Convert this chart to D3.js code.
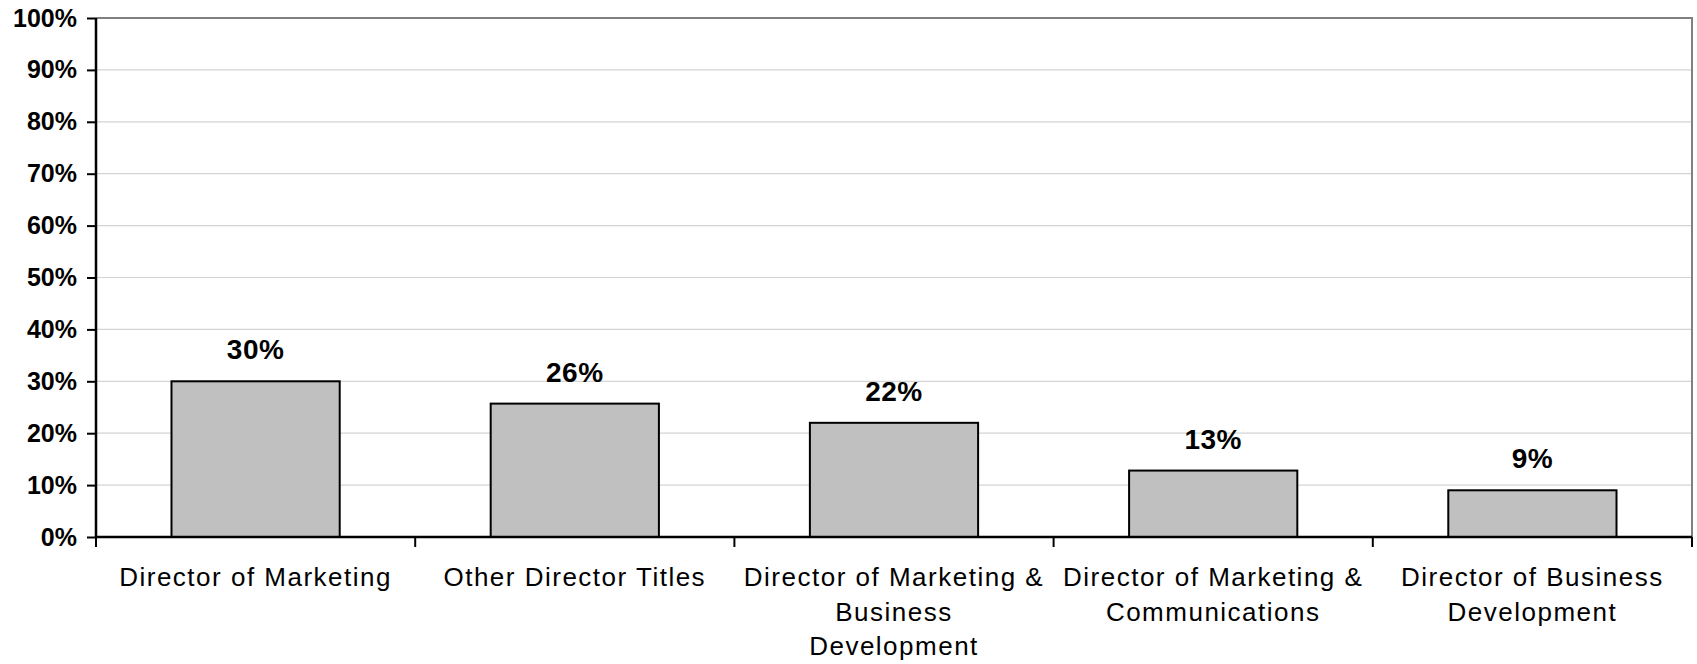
<!DOCTYPE html>
<html>
<head>
<meta charset="utf-8">
<script src="https://cdn.jsdelivr.net/npm/d3@7"></script>
<style>
  body { margin: 0; background: #fff; }
  text { font-family: "Liberation Sans", Arial, sans-serif; }
</style>
</head>
<body>
<div id="chart"></div>
<script>
// data
const categories = [
    ["Director of Marketing"],
    ["Other Director Titles"],
    ["Director of Marketing &", "Business", "Development"],
    ["Director of Marketing &", "Communications"],
    ["Director of Business", "Development"]
];
const values = [30, 25.7, 22, 12.8, 9];
const yTicks = [0, 10, 20, 30, 40, 50, 60, 70, 80, 90, 100];

const W = 1697, H = 664;
const margin = ({ top: 18, right: 5, bottom: 127, left: 96 });
const width = W - margin.left - margin.right;
const height = H - margin.top - margin.bottom;

const svg = d3.select("#chart").append("svg")
    .attr("width", W)
    .attr("height", H);

const g = svg.append("g")
    .attr("transform", "translate(" + margin.left + "," + margin.top + ")");

const x = d3.scaleBand()
    .domain(d3.range(values.length))
    .range([0, width])
    .paddingInner(0.473)
    .paddingOuter(0.2365);

const y = d3.scaleLinear().domain([0, 100]).range([height, 0]);

// gridlines
g.selectAll(".grid")
    .data(yTicks.filter(d => d > 0 && d < 100))
    .join("line")
    .attr("x1", 0).attr("x2", width)
    .attr("y1", d => y(d)).attr("y2", d => y(d))
    .attr("stroke", "#d4d4d4")
    .attr("stroke-width", 1.2);

// plot frame top/right
g.append("path")
    .attr("d", `M0,${y(100)}H${width}V${height}`)
    .attr("fill", "none")
    .attr("stroke", "#808080")
    .attr("stroke-width", 2);

// bars
g.selectAll(".bar")
    .data(values)
    .join("rect")
    .attr("x", (d, i) => x(i))
    .attr("y", d => y(d))
    .attr("width", x.bandwidth())
    .attr("height", d => height - y(d))
    .attr("fill", "#c0c0c0")
    .attr("stroke", "#000")
    .attr("stroke-width", 2);

// value labels
g.selectAll(".val")
    .data(values)
    .join("text")
    .attr("x", (d, i) => x(i) + x.bandwidth() / 2)
    .attr("y", d => y(d) - 22)
    .attr("text-anchor", "middle")
    .attr("font-size", "28px")
    .attr("font-weight", "bold")
    .attr("letter-spacing", "0.5px")
    .text(d => Math.round(d) + "%");

// y axis
const yAxis = g.append("g")
    .call(d3.axisLeft(y).tickValues(yTicks).tickSize(9).tickPadding(10).tickFormat(d => d + "%"));
yAxis.select(".domain").attr("stroke", "#000").attr("stroke-width", 2.5).attr("d", `M0,${y(100)}V${height}`);
yAxis.selectAll(".tick line").attr("stroke", "#000").attr("stroke-width", 2);
yAxis.selectAll(".tick text")
    .attr("font-size", "25px")
    .attr("font-weight", "bold")
    .attr("fill", "#000")
    .attr("font-family", "Liberation Sans, Arial, sans-serif");

// x axis line with ticks at category boundaries
const bounds = d3.range(values.length + 1).map(i => i * x.step());
g.append("line")
    .attr("x1", 0).attr("x2", width)
    .attr("y1", height).attr("y2", height)
    .attr("stroke", "#000")
    .attr("stroke-width", 2.5);
g.selectAll(".xtick")
    .data(bounds)
    .join("line")
    .attr("x1", d => d).attr("x2", d => d)
    .attr("y1", height).attr("y2", height + 10)
    .attr("stroke", "#000")
    .attr("stroke-width", 2);

// category labels
const cat = g.selectAll(".cat")
    .data(categories)
    .join("text")
    .attr("text-anchor", "middle")
    .attr("font-size", "26px")
    .attr("letter-spacing", "1.5px")
    .attr("fill", "#000");
cat.selectAll("tspan")
    .data((d, i) => d.map(line => ({ line, i })))
    .join("tspan")
    .attr("x", d => x(d.i) + x.bandwidth() / 2)
    .attr("y", (d, j) => height + 49 + j * 34.5)
    .text(d => d.line);
</script>
</body>
</html>
